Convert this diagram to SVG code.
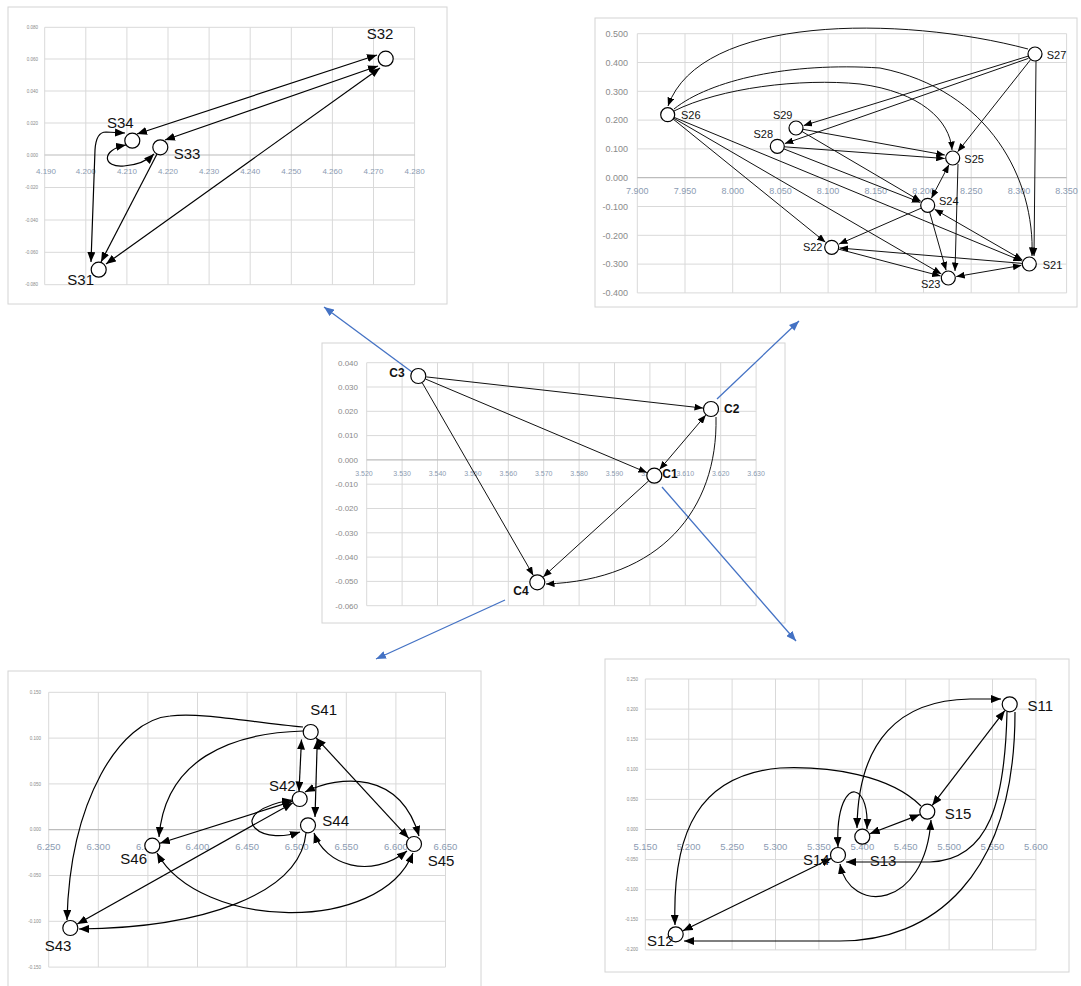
<svg xmlns="http://www.w3.org/2000/svg" width="1081" height="986" viewBox="0 0 1081 986">
<style>
.frame{fill:#fff;stroke:#d4d4d4;stroke-width:1}
.grid{fill:none;stroke:#d9d9d9;stroke-width:1}
.axis{fill:none;stroke:#bcbcbc;stroke-width:1.2}
.tx{font-family:"Liberation Sans",Arial,sans-serif;fill:#8b9bb2;text-anchor:middle}
.ty{font-family:"Liberation Sans",Arial,sans-serif;fill:#8a8a8a;text-anchor:end}
.node{fill:#fff;stroke:#000;stroke-width:1.2}
.lbl{font-family:"Liberation Sans",Arial,sans-serif;fill:#111;font-size:15px}
.lbl2{font-family:"Liberation Sans",Arial,sans-serif;fill:#111;font-size:11px}
.lbl3{font-family:"Liberation Sans",Arial,sans-serif;fill:#111;font-size:12px;font-weight:bold;text-anchor:middle}
.e{fill:none;stroke:#000;stroke-width:1.2;marker-end:url(#ah)}
.eb{fill:none;stroke:#000;stroke-width:1.2;marker-end:url(#ah);marker-start:url(#ah)}
.s{fill:none;stroke:#111;stroke-width:1;marker-end:url(#as)}
.sb{fill:none;stroke:#111;stroke-width:1;marker-end:url(#as);marker-start:url(#as)}
.blue{fill:none;stroke:#4472c4;stroke-width:1.3;marker-end:url(#bh)}
</style>
<defs>
<marker id="ah" viewBox="0 0 10 8" refX="10" refY="4" markerWidth="10" markerHeight="8" markerUnits="userSpaceOnUse" orient="auto-start-reverse"><path d="M0,0 L10,4 L0,8 z" fill="#000"/></marker>
<marker id="as" viewBox="0 0 10 8" refX="10" refY="4" markerWidth="8.5" markerHeight="7" markerUnits="userSpaceOnUse" orient="auto-start-reverse"><path d="M0,0 L10,4 L0,8 z" fill="#000"/></marker>
<marker id="bh" viewBox="0 0 10 8" refX="10" refY="4" markerWidth="10" markerHeight="8" markerUnits="userSpaceOnUse" orient="auto"><path d="M0,0 L10,4 L0,8 z" fill="#4472c4"/></marker>
</defs>
<rect width="1081" height="986" fill="#fff"/>

<g id="panel1">
<rect class="frame" x="8" y="7" width="439" height="297"/>
<path class="grid" d="M44.7,27.3V284.7M85.8,27.3V284.7M126.9,27.3V284.7M168,27.3V284.7M209.1,27.3V284.7M250.2,27.3V284.7M291.3,27.3V284.7M332.4,27.3V284.7M373.5,27.3V284.7M414.6,27.3V284.7M44.7,27.3H414.6M44.7,59H414.6M44.7,91H414.6M44.7,123H414.6M44.7,187.5H414.6M44.7,220H414.6M44.7,252.3H414.6M44.7,284.7H414.6"/>
<path class="axis" d="M44.7,155H414.6"/>
<g class="tx" font-size="8">
<text x="46" y="173.5">4.190</text><text x="85.8" y="173.5">4.200</text><text x="126.9" y="173.5">4.210</text><text x="168" y="173.5">4.220</text><text x="209.1" y="173.5">4.230</text><text x="250.2" y="173.5">4.240</text><text x="291.3" y="173.5">4.250</text><text x="332.4" y="173.5">4.260</text><text x="373.5" y="173.5">4.270</text><text x="414.6" y="173.5">4.280</text>
</g>
<g class="ty" font-size="4.5">
<text x="38" y="29">0.080</text><text x="38" y="60.5">0.060</text><text x="38" y="92.5">0.040</text><text x="38" y="124.5">0.020</text><text x="38" y="156.5">0.000</text><text x="38" y="189">-0.020</text><text x="38" y="221.5">-0.040</text><text x="38" y="254">-0.060</text><text x="38" y="286.2">-0.080</text>
</g>
</g>

<g id="panel2">
<rect class="frame" x="595" y="18" width="482" height="289"/>
<path class="grid" d="M637.3,33.7V292.9M685,33.7V292.9M732.7,33.7V292.9M780.4,33.7V292.9M828.1,33.7V292.9M875.8,33.7V292.9M923.5,33.7V292.9M971.2,33.7V292.9M1018.9,33.7V292.9M1066.6,33.7V292.9M637.3,33.7H1066.6M637.3,62.5H1066.6M637.3,91.3H1066.6M637.3,120.1H1066.6M637.3,148.9H1066.6M637.3,206.5H1066.6M637.3,235.3H1066.6M637.3,264.1H1066.6M637.3,292.9H1066.6"/>
<path class="axis" d="M637.3,177.7H1066.6"/>
<g class="tx" font-size="9">
<text x="637.3" y="193.5">7.900</text><text x="685" y="193.5">7.950</text><text x="732.7" y="193.5">8.000</text><text x="780.4" y="193.5">8.050</text><text x="828.1" y="193.5">8.100</text><text x="875.8" y="193.5">8.150</text><text x="923.5" y="193.5">8.200</text><text x="971.2" y="193.5">8.250</text><text x="1018.9" y="193.5">8.300</text><text x="1066.6" y="193.5">8.350</text>
</g>
<g class="ty" font-size="9">
<text x="628" y="37">0.500</text><text x="628" y="65.8">0.400</text><text x="628" y="94.6">0.300</text><text x="628" y="123.4">0.200</text><text x="628" y="152.2">0.100</text><text x="628" y="181">0.000</text><text x="628" y="209.8">-0.100</text><text x="628" y="238.6">-0.200</text><text x="628" y="267.4">-0.300</text><text x="628" y="296.2">-0.400</text>
</g>
</g>

<g id="panel3">
<rect class="frame" x="322" y="343" width="463" height="280"/>
<path class="grid" d="M366.7,362.7V605.7M402.1,362.7V605.7M437.5,362.7V605.7M472.9,362.7V605.7M508.3,362.7V605.7M543.7,362.7V605.7M579.1,362.7V605.7M614.5,362.7V605.7M649.9,362.7V605.7M685.3,362.7V605.7M720.7,362.7V605.7M756.1,362.7V605.7M366.7,362.7H756.1M366.7,387H756.1M366.7,411.3H756.1M366.7,435.6H756.1M366.7,484.2H756.1M366.7,508.5H756.1M366.7,532.8H756.1M366.7,557.1H756.1M366.7,581.4H756.1M366.7,605.7H756.1"/>
<path class="axis" d="M366.7,459.9H756.1"/>
<g class="tx" font-size="7">
<text x="364" y="475.5">3.520</text><text x="402.1" y="475.5">3.530</text><text x="437.5" y="475.5">3.540</text><text x="472.9" y="475.5">3.550</text><text x="508.3" y="475.5">3.560</text><text x="543.7" y="475.5">3.570</text><text x="579.1" y="475.5">3.580</text><text x="614.5" y="475.5">3.590</text><text x="649.9" y="475.5">3.600</text><text x="685.3" y="475.5">3.610</text><text x="720.7" y="475.5">3.620</text><text x="756.1" y="475.5">3.630</text>
</g>
<g class="ty" font-size="8">
<text x="358" y="365.5">0.040</text><text x="358" y="389.8">0.030</text><text x="358" y="414.1">0.020</text><text x="358" y="438.4">0.010</text><text x="358" y="462.7">0.000</text><text x="358" y="487">-0.010</text><text x="358" y="511.3">-0.020</text><text x="358" y="535.6">-0.030</text><text x="358" y="559.9">-0.040</text><text x="358" y="584.2">-0.050</text><text x="358" y="608.5">-0.060</text>
</g>
</g>

<g id="panel4">
<rect class="frame" x="8" y="671" width="473" height="330"/>
<path class="grid" d="M48.7,692.3V967.1M98.3,692.3V967.1M147.9,692.3V967.1M197.5,692.3V967.1M247.1,692.3V967.1M296.7,692.3V967.1M346.3,692.3V967.1M395.9,692.3V967.1M445.5,692.3V967.1M48.7,692.3H445.5M48.7,738.1H445.5M48.7,783.9H445.5M48.7,875.5H445.5M48.7,921.3H445.5M48.7,967.1H445.5"/>
<path class="axis" d="M48.7,829.7H445.5"/>
<g class="tx" font-size="9.5">
<text x="48.7" y="849.5">6.250</text><text x="98.3" y="849.5">6.300</text><text x="147.9" y="849.5">6.350</text><text x="197.5" y="849.5">6.400</text><text x="247.1" y="849.5">6.450</text><text x="296.7" y="849.5">6.500</text><text x="346.3" y="849.5">6.550</text><text x="395.9" y="849.5">6.600</text><text x="445.5" y="849.5">6.650</text>
</g>
<g class="ty" font-size="4.5">
<text x="41" y="694">0.150</text><text x="41" y="739.8">0.100</text><text x="41" y="785.6">0.050</text><text x="41" y="831.4">0.000</text><text x="41" y="877.2">-0.050</text><text x="41" y="923">-0.100</text><text x="41" y="968.8">-0.150</text>
</g>
</g>

<g id="panel5">
<rect class="frame" x="605" y="659" width="464" height="313"/>
<path class="grid" d="M645.3,679V949.9M688.7,679V949.9M732.1,679V949.9M775.5,679V949.9M818.9,679V949.9M862.3,679V949.9M905.7,679V949.9M949.1,679V949.9M992.5,679V949.9M1035.9,679V949.9M645.3,679H1035.9M645.3,709.1H1035.9M645.3,739.2H1035.9M645.3,769.3H1035.9M645.3,799.4H1035.9M645.3,859.6H1035.9M645.3,889.7H1035.9M645.3,919.8H1035.9M645.3,949.9H1035.9"/>
<path class="axis" d="M645.3,829.5H1035.9"/>
<g class="tx" font-size="9.5">
<text x="645.3" y="849.5">5.150</text><text x="688.7" y="849.5">5.200</text><text x="732.1" y="849.5">5.250</text><text x="775.5" y="849.5">5.300</text><text x="818.9" y="849.5">5.350</text><text x="862.3" y="849.5">5.400</text><text x="905.7" y="849.5">5.450</text><text x="949.1" y="849.5">5.500</text><text x="992.5" y="849.5">5.550</text><text x="1035.9" y="849.5">5.600</text>
</g>
<g class="ty" font-size="4.5">
<text x="638" y="680.5">0.250</text><text x="638" y="710.6">0.200</text><text x="638" y="740.7">0.150</text><text x="638" y="770.8">0.100</text><text x="638" y="800.9">0.050</text><text x="638" y="831">0.000</text><text x="638" y="861.1">-0.050</text><text x="638" y="891.2">-0.100</text><text x="638" y="921.3">-0.150</text><text x="638" y="951.4">-0.200</text>
</g>
</g>

<g id="connectors">
<path class="blue" d="M412,372 L324,307"/>
<path class="blue" d="M717,399 L799,321"/>
<path class="blue" d="M662,487 L796,641"/>
<path class="blue" d="M505,600 L376,659"/>

<path class="eb" d="M137,134 L377,55"/>
<path class="eb" d="M165,140 L378,66"/>
<path class="eb" d="M106,264 L380,68"/>
<path class="e" d="M157,154 L101,262"/>
<path class="eb" d="M125,133 L106,132 Q96,132 95,150 L91,262"/>
<path class="eb" d="M126,145 C100,150 103,168 124,166 C138,165 147,161 154,154"/>

<path class="s" d="M1028,49 C900,15 700,15 668,106"/>
<path class="s" d="M674,109 C710,80 790,62 880,68 C990,90 1035,180 1032,256"/>
<path class="s" d="M674,111 C720,88 800,78 860,84 C920,92 950,120 952,150"/>
<path class="s" d="M1028.3,56.1 L803.6,125.6"/>
<path class="s" d="M1028.4,58.4 L784.8,143.6"/>
<path class="s" d="M1030.7,59.5 L957.7,151.7"/>
<path class="s" d="M1036,61 L1034,256"/>
<path class="s" d="M803,129.3 L944.8,155"/>
<path class="s" d="M784.3,146.8 L944.7,158.5"/>
<path class="s" d="M802,131.5 L920.8,201.3"/>
<path class="s" d="M783.8,148.9 L920.3,202.4"/>
<path class="s" d="M673.2,119.1 L825.5,242.3"/>
<path class="s" d="M673.7,118.2 L941.4,274"/>
<path class="s" d="M674.2,117.4 L1021.9,261"/>
<path class="sb" d="M949,164.6 L931.4,198.2"/>
<path class="s" d="M921.3,208.1 L839,244.1"/>
<path class="s" d="M929.6,212 L946.1,270.3"/>
<path class="sb" d="M934.6,209.3 L1022.4,260"/>
<path class="s" d="M958,164 L955,271"/>
<path class="s" d="M1022.3,263.4 L839.7,248"/>
<path class="s" d="M838.5,249.1 L940.6,276"/>
<path class="sb" d="M956.2,276.6 L1021.4,265.4"/>

<path class="s" d="M426.3,376.9 L703,408.1"/>
<path class="s" d="M425.7,379.1 L646.9,472.6"/>
<path class="s" d="M422.3,382.9 L533.3,575.4"/>
<path class="sb" d="M659.5,469.6 L705.8,415.1"/>
<path class="s" d="M648.4,481.1 L543.2,576.9"/>
<path class="s" d="M716,417 C718,510 660,580 546,584"/>

<path class="e" d="M303,727 C250,722 200,712 170,716 C120,720 70,800 67,920"/>
<path class="e" d="M303,731 C230,733 165,760 159,837"/>
<path class="eb" d="M301.5,739.5 L299,791.5"/>
<path class="eb" d="M317.3,739.5 L315,817"/>
<path class="eb" d="M316.1,737.9 L408.6,838.1"/>
<path class="eb" d="M305,792 C340,775 400,770 419,836"/>
<path class="eb" d="M159.9,843.3 L292.1,801.4"/>
<path class="eb" d="M77.3,924.1 L292.7,802.9"/>
<path class="eb" d="M292,800 C260,805 245,818 255,828 C265,838 285,837 300,832"/>
<path class="eb" d="M314,833 C325,865 370,880 407,851"/>
<path class="e" d="M306,833 C300,895 200,928 79,929"/>
<path class="eb" d="M157,853 C200,930 380,935 413,853"/>

<path class="eb" d="M857,828 C858,740 900,700 970,699 L1001,699"/>
<path class="eb" d="M1004.8,710.6 L932.2,805.4"/>
<path class="e" d="M1007,712 C1005,800 990,860 930,862 L846,862"/>
<path class="e" d="M1015,712 C1015,880 930,941 840,941 L684,941"/>
<path class="e" d="M921,806 C890,775 830,766 780,768 C700,775 672,830 675,925"/>
<path class="eb" d="M831.3,858.3 L682.9,930.8"/>
<path class="eb" d="M869.8,833.8 L919.8,814.6"/>
<path class="eb" d="M840,864 C850,915 925,910 931,820"/>
<path class="eb" d="M838,847 C836,805 848,790 855,792 C864,794 868,810 867,829"/>
</g>

<g id="S32"><circle class="node" cx="385.7" cy="58.7" r="7.5"/><text class="lbl" x="380" y="39" text-anchor="middle">S32</text></g>
<g id="S34"><circle class="node" cx="132.3" cy="140.7" r="7.5"/><text class="lbl" x="120.3" y="127.5" text-anchor="middle">S34</text></g>
<g id="S33"><circle class="node" cx="160.3" cy="147.3" r="7.5"/><text class="lbl" x="187" y="159" text-anchor="middle">S33</text></g>
<g id="S31"><circle class="node" cx="98.7" cy="269.7" r="7.5"/><text class="lbl" x="80.7" y="285" text-anchor="middle">S31</text></g>

<g id="S27"><circle class="node" cx="1035" cy="54" r="7"/><text class="lbl2" x="1046.7" y="58.5">S27</text></g>
<g id="S26"><circle class="node" cx="667.7" cy="114.7" r="7"/><text class="lbl2" x="681" y="118.5">S26</text></g>
<g id="S29"><circle class="node" cx="796" cy="128" r="7"/><text class="lbl2" x="782.7" y="118.5" text-anchor="middle">S29</text></g>
<g id="S28"><circle class="node" cx="777.3" cy="146.3" r="7"/><text class="lbl2" x="763.3" y="137.5" text-anchor="middle">S28</text></g>
<g id="S25"><circle class="node" cx="952.7" cy="158" r="7"/><text class="lbl2" x="964.3" y="163">S25</text></g>
<g id="S24"><circle class="node" cx="927.7" cy="205.3" r="7"/><text class="lbl2" x="939" y="205">S24</text></g>
<g id="S22"><circle class="node" cx="831.7" cy="247.3" r="7"/><text class="lbl2" x="812.7" y="251" text-anchor="middle">S22</text></g>
<g id="S21"><circle class="node" cx="1029.3" cy="264" r="7"/><text class="lbl2" x="1042.7" y="269">S21</text></g>
<g id="S23"><circle class="node" cx="948.3" cy="278" r="7"/><text class="lbl2" x="930.7" y="287.5" text-anchor="middle">S23</text></g>

<g id="C3"><circle class="node" cx="418.3" cy="376" r="7.5"/><text class="lbl3" x="397" y="377">C3</text></g>
<g id="C2"><circle class="node" cx="711" cy="409" r="7.5"/><text class="lbl3" x="731.7" y="413">C2</text></g>
<g id="C1"><circle class="node" cx="654.3" cy="475.7" r="7.5"/><text class="lbl3" x="670" y="478">C1</text></g>
<g id="C4"><circle class="node" cx="537.3" cy="582.3" r="7.5"/><text class="lbl3" x="521" y="595">C4</text></g>

<g id="S41"><circle class="node" cx="310.7" cy="732" r="7.5"/><text class="lbl" x="323.7" y="715" text-anchor="middle">S41</text></g>
<g id="S42"><circle class="node" cx="299.7" cy="799" r="7.5"/><text class="lbl" x="282.3" y="790.5" text-anchor="middle">S42</text></g>
<g id="S44"><circle class="node" cx="308" cy="825.3" r="7.5"/><text class="lbl" x="335.7" y="825.5" text-anchor="middle">S44</text></g>
<g id="S46"><circle class="node" cx="152.3" cy="845.7" r="7.5"/><text class="lbl" x="133.7" y="864" text-anchor="middle">S46</text></g>
<g id="S45"><circle class="node" cx="414" cy="844" r="7.5"/><text class="lbl" x="441" y="866" text-anchor="middle">S45</text></g>
<g id="S43"><circle class="node" cx="70.3" cy="928" r="7.5"/><text class="lbl" x="58" y="951" text-anchor="middle">S43</text></g>

<g id="S11"><circle class="node" cx="1009.7" cy="704.3" r="7.5"/><text class="lbl" x="1040.3" y="711" text-anchor="middle">S11</text></g>
<g id="S15"><circle class="node" cx="927.3" cy="811.7" r="7.5"/><text class="lbl" x="958" y="818.5" text-anchor="middle">S15</text></g>
<g id="S13"><circle class="node" cx="862.3" cy="836.7" r="7.5"/><text class="lbl" x="883" y="866" text-anchor="middle">S13</text></g>
<g id="S14"><circle class="node" cx="838" cy="855" r="7.5"/><text class="lbl" x="816.3" y="864.5" text-anchor="middle">S14</text></g>
<g id="S12"><circle class="node" cx="675.7" cy="934.3" r="7.5"/><text class="lbl" x="660.3" y="946" text-anchor="middle">S12</text></g>
</svg>
